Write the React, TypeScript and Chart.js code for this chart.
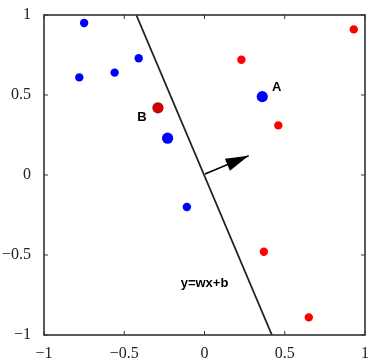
import React, { useEffect, useRef } from "react";
import { Chart, registerables } from "chart.js";

Chart.register(...registerables);

const blueSmallX = [-0.75, -0.78, -0.56, -0.41, -0.11];
const blueSmallY = [0.95, 0.61, 0.64, 0.73, -0.2];
const blueBigX = [0.36, -0.23];
const blueBigY = [0.49, 0.23];
const redSmallX = [0.23, 0.93, 0.46, 0.37, 0.65];
const redSmallY = [0.72, 0.91, 0.31, -0.48, -0.89];
const redBigX = [-0.29];
const redBigY = [0.42];
const boundaryX = [-0.425, 0.42];
const boundaryY = [1, -1];
const arrowX = [0.003, 0.275];
const arrowY = [0.006, 0.12];
const labelTexts = ["A", "B", "y=wx+b"];
const labelX = [0.45, -0.39, 0.0];
const labelY = [0.55, 0.36, -0.68];
const tickValues = [-1, -0.5, 0, 0.5, 1];

const zip = (xs: number[], ys: number[]) => xs.map((x, i) => ({ x, y: ys[i] }));
const fmt = (v: number) => (v < 0 ? "\u2212" + String(Math.abs(v)) : String(v));

const framePlugin = {
  id: "frame",
  afterDatasetsDraw(chart: any) {
    const { ctx, chartArea, scales } = chart;
    const { left, right, top, bottom } = chartArea;
    const xs = scales.x;
    const ys = scales.y;
    ctx.save();
    // arrow head
    const x0 = xs.getPixelForValue(arrowX[0]);
    const y0 = ys.getPixelForValue(arrowY[0]);
    const x1 = xs.getPixelForValue(arrowX[1]);
    const y1 = ys.getPixelForValue(arrowY[1]);
    const ang = Math.atan2(y1 - y0, x1 - x0);
    const hl = 23;
    const hw = 6.5;
    const bx = x1 - hl * Math.cos(ang);
    const by = y1 - hl * Math.sin(ang);
    ctx.fillStyle = "#000";
    ctx.beginPath();
    ctx.moveTo(x1, y1);
    ctx.lineTo(bx - hw * Math.sin(ang), by + hw * Math.cos(ang));
    ctx.lineTo(bx + hw * Math.sin(ang), by - hw * Math.cos(ang));
    ctx.closePath();
    ctx.fill();
    // labels
    ctx.font = "bold 13px 'Liberation Sans', Arial, sans-serif";
    ctx.fillStyle = "#000";
    ctx.textAlign = "center";
    ctx.textBaseline = "middle";
    labelTexts.forEach((t, i) => {
      ctx.fillText(t, xs.getPixelForValue(labelX[i]), ys.getPixelForValue(labelY[i]));
    });
    // frame
    ctx.strokeStyle = "#333";
    ctx.lineWidth = 1.6;
    ctx.strokeRect(left, top, right - left, bottom - top);
    ctx.lineWidth = 1;
    ctx.beginPath();
    tickValues.forEach((v) => {
      const px = xs.getPixelForValue(v);
      ctx.moveTo(px, bottom);
      ctx.lineTo(px, bottom - 4);
      ctx.moveTo(px, top);
      ctx.lineTo(px, top + 4);
      const py = ys.getPixelForValue(v);
      ctx.moveTo(left, py);
      ctx.lineTo(left + 4, py);
      ctx.moveTo(right, py);
      ctx.lineTo(right - 4, py);
    });
    ctx.stroke();
    ctx.restore();
  },
};

export default function App() {
  const ref = useRef<HTMLCanvasElement | null>(null);
  useEffect(() => {
    if (!ref.current) return;
    const tickFont = { family: "'Liberation Serif', 'Times New Roman', serif", size: 16 };
    const chart = new Chart(ref.current, {
      type: "scatter",
      data: {
        datasets: [
          {
            type: "line",
            data: zip(boundaryX, boundaryY),
            borderColor: "#222",
            borderWidth: 1.8,
            pointRadius: 0,
            fill: false,
          } as any,
          {
            type: "line",
            data: zip(arrowX, arrowY),
            borderColor: "#000",
            borderWidth: 1.5,
            pointRadius: 0,
            fill: false,
          } as any,
          {
            data: zip(blueSmallX, blueSmallY),
            backgroundColor: "#0000ff",
            borderColor: "#0000ff",
            pointRadius: 4.2,
            borderWidth: 0,
          },
          {
            data: zip(blueBigX, blueBigY),
            backgroundColor: "#0000ff",
            borderColor: "#0000ff",
            pointRadius: 5.6,
            borderWidth: 0,
          },
          {
            data: zip(redSmallX, redSmallY),
            backgroundColor: "#ff0000",
            borderColor: "#ff0000",
            pointRadius: 4.2,
            borderWidth: 0,
          },
          {
            data: zip(redBigX, redBigY),
            backgroundColor: "#cc0000",
            borderColor: "#cc0000",
            pointRadius: 5.6,
            borderWidth: 0,
          },
        ],
      },
      options: {
        animation: false,
        responsive: true,
        maintainAspectRatio: false,
        layout: { padding: { top: 15, right: 15, left: 0, bottom: 0 } },
        plugins: { legend: { display: false }, tooltip: { enabled: false } },
        scales: {
          x: {
            type: "linear",
            min: -1,
            max: 1,
            afterFit: (s: any) => {
              s.height = 27;
            },
            afterBuildTicks: (s: any) => {
              s.ticks = tickValues.map((v) => ({ value: v }));
            },
            grid: { display: false },
            border: { display: false },
            ticks: { font: tickFont, color: "#222", padding: 1, callback: (v: any) => fmt(Number(v)), maxRotation: 0 },
          },
          y: {
            type: "linear",
            min: -1,
            max: 1,
            afterFit: (s: any) => {
              s.width = 44;
            },
            afterBuildTicks: (s: any) => {
              s.ticks = tickValues.map((v) => ({ value: v }));
            },
            grid: { display: false },
            border: { display: false },
            ticks: { font: tickFont, color: "#222", padding: 5, callback: (v: any) => fmt(Number(v)) },
          },
        },
      },
      plugins: [framePlugin],
    });
    return () => chart.destroy();
  }, []);
  return (
    <div style={{ position: "fixed", left: 0, top: 0, width: 380, height: 362, background: "#fff" }}>
      <canvas ref={ref} />
    </div>
  );
}
